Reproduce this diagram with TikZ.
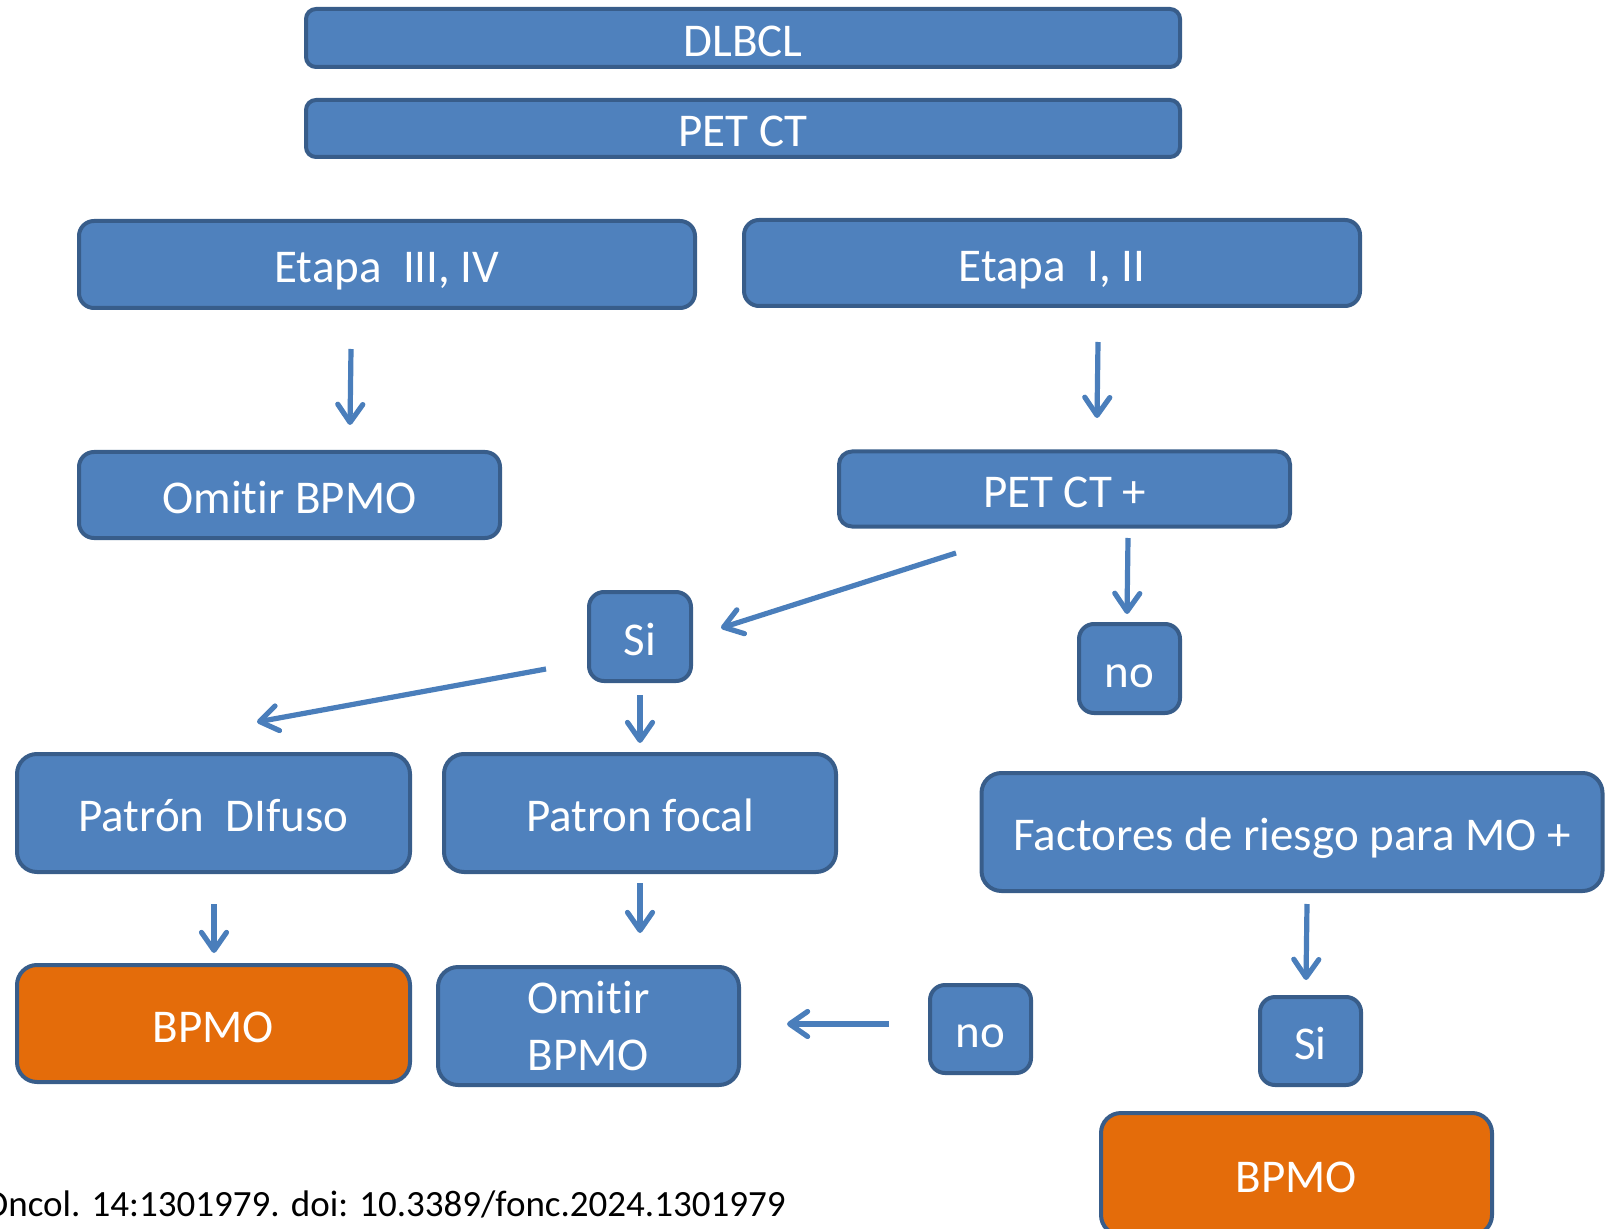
\documentclass[tikz,border=0pt]{standalone}
\usepackage{fontspec}
\setmainfont{Carlito}[Ligatures=NoCommon]
\usetikzlibrary{arrows.meta}
\definecolor{boxblue}{HTML}{4F81BD}
\definecolor{boxline}{HTML}{385D8A}
\definecolor{boxorange}{HTML}{E46C0A}
\definecolor{arrowblue}{HTML}{4A7EBB}

\begin{document}
\begin{tikzpicture}[x=0.5pt,y=-0.5pt]
\tikzstyle{every node}+=[inner sep=0pt]
\tikzstyle{box}=[draw=boxline, line width=2pt, fill=boxblue, rounded corners=7.5pt, text=white, font=\fontsize{23.5}{28.2}\selectfont, align=center, text height=23.5pt, text depth=5pt]
\tikzstyle{bigbox}=[box, rounded corners=10pt]
\tikzstyle{orangebox}=[bigbox, fill=boxorange]
\tikzstyle{arrow}=[draw=arrowblue, line width=2.6pt, -{Straight Barb[length=9pt,width=12.5pt,line cap=round,line join=round]}]
\useasboundingbox (0,0) rectangle (1610,1229);
\node (dlbcl) [box, rounded corners=5pt, minimum width=437pt, minimum height=29pt] at (743,38) {DLBCL};
\node (petct) [box, rounded corners=5pt, minimum width=437pt, minimum height=28.5pt] at (743,128.5) {PET CT};
\node (etapa34) [box, minimum width=308pt, minimum height=43.5pt] at (387,264.5) {Etapa~~III, IV};
\node (etapa12) [box, minimum width=308pt, minimum height=43pt] at (1052,263) {Etapa~~I, II};
\node (omitir1) [box, minimum width=210.5pt, minimum height=43pt] at (289.5,495) {Omitir BPMO};
\node (petctpos) [box, rounded corners=6.5pt, minimum width=225.5pt, minimum height=37.5pt] at (1064.5,489) {PET CT +};
\node (si1) [box, minimum width=51pt, minimum height=44.5pt] at (640,636.5) {Si};
\node (no1) [box, minimum width=50.5pt, minimum height=44.5pt] at (1129.5,668.5) {no};
\node (difuso) [bigbox, minimum width=196.5pt, minimum height=59pt] at (213.5,813) {Patrón~~DIfuso};
\node (focal) [bigbox, minimum width=196pt, minimum height=59pt] at (640,813) {Patron focal};
\node (factores) [bigbox, minimum width=310.5pt, minimum height=59pt] at (1292,832) {Factores de riesgo para MO +};
\node (bpmo1) [orangebox, minimum width=196.5pt, minimum height=58.5pt] at (213.5,1023.5) {BPMO};
\node (omitir2) [bigbox, text height=, text depth=, minimum width=150.5pt, minimum height=59pt] at (588.5,1026) {Omitir\\BPMO};
\node (no2) [box, minimum width=50.5pt, minimum height=44pt] at (980.5,1029) {no};
\node (si2) [box, minimum width=50.5pt, minimum height=44pt] at (1310.5,1041) {Si};
\node (bpmo2) [orangebox, minimum width=195.5pt, minimum height=61pt] at (1296.5,1174) {BPMO};
\node (cite) [anchor=base east, font=\fontsize{18.5}{22}\selectfont] at (786,1216) {Oncol. 14:1301979. doi: 10.3389/fonc.2024.1301979};
\coordinate (s1) at (351,349);
\coordinate (t1) at (350,425);
\coordinate (s2) at (1098,342);
\coordinate (t2) at (1097,418);
\coordinate (s3) at (956,553);
\coordinate (t3) at (721,628);
\coordinate (s4) at (1128,538);
\coordinate (t4) at (1127,614);
\coordinate (s5) at (546,669);
\coordinate (t5) at (257,722);
\coordinate (s6) at (640,695);
\coordinate (t6) at (640,743);
\coordinate (s7) at (214,904);
\coordinate (t7) at (214,953);
\coordinate (s8) at (640,883);
\coordinate (t8) at (640,933);
\coordinate (s9) at (1307,904);
\coordinate (t9) at (1306,980);
\coordinate (s10) at (889,1024);
\coordinate (t10) at (787,1024);
\draw [arrow] (s1) -- (t1);
\draw [arrow] (s2) -- (t2);
\draw [arrow] (s3) -- (t3);
\draw [arrow] (s4) -- (t4);
\draw [arrow] (s5) -- (t5);
\draw [arrow] (s6) -- (t6);
\draw [arrow] (s7) -- (t7);
\draw [arrow] (s8) -- (t8);
\draw [arrow] (s9) -- (t9);
\draw [arrow] (s10) -- (t10);
\end{tikzpicture}
\end{document}
